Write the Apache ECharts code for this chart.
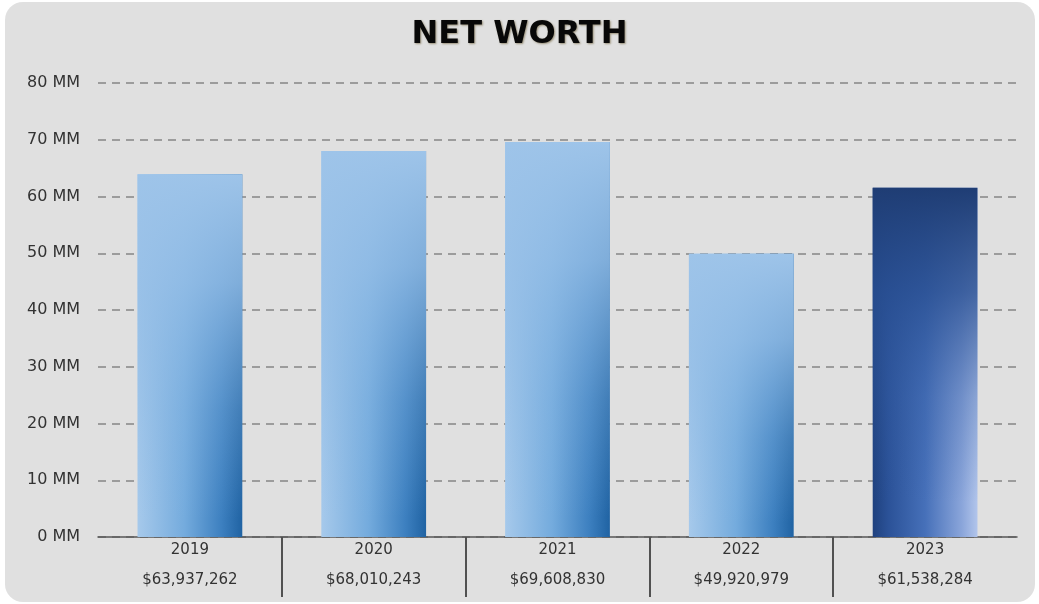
<!DOCTYPE html>
<html>
<head>
<meta charset="utf-8">
<script src="https://cdn.jsdelivr.net/npm/echarts@6/dist/echarts.min.js"></script>
<style>
  html, body { margin: 0; padding: 0; background: #ffffff; }
  #card {
    position: absolute; left: 5px; top: 2px; width: 1030px; height: 600px;
    background: #e0e0e0; border-radius: 18px;
  }
  #chart { position: absolute; left: 0; top: 0; width: 1039px; height: 604px; }
</style>
</head>
<body>
<div id="card"></div>
<div id="chart"></div>
<script>
// data
var years = ['2019', '2020', '2021', '2022', '2023'];
var netWorth = [63937262, 68010243, 69608830, 49920979, 61538284];
var yTicks = { min: 0, max: 80000000, interval: 10000000 };

var G = echarts.graphic.LinearGradient;
// base fill: left -> right
var lightBase = new G(0, 0, 1, 0, [
    { offset: 0, color: '#a6c9eb' },
    { offset: 0.45, color: '#74abdd' },
    { offset: 0.8, color: '#3d80c0' },
    { offset: 1, color: '#2063a3' }
]);
var darkBase = new G(0, 0, 1, 0, [
    { offset: 0, color: '#1f417e' },
    { offset: 0.15, color: '#2b5298' },
    { offset: 0.5, color: '#4670b9' },
    { offset: 0.85, color: '#8aa5da' },
    { offset: 1, color: '#b2c5eb' }
]);
// top wash: top -> bottom
var lightWash = new G(0, 0, 0, 1, [
    { offset: 0, color: 'rgba(158,196,233,1)' },
    { offset: 0.3, color: 'rgba(150,191,231,0.8)' },
    { offset: 0.65, color: 'rgba(140,185,228,0.3)' },
    { offset: 0.95, color: 'rgba(140,185,228,0)' }
]);
var darkWash = new G(0, 0, 0, 1, [
    { offset: 0, color: 'rgba(31,61,116,1)' },
    { offset: 0.3, color: 'rgba(40,78,145,0.8)' },
    { offset: 0.6, color: 'rgba(50,90,160,0.3)' },
    { offset: 0.9, color: 'rgba(50,90,160,0)' }
]);

function money(v) {
    return '$' + v.toString().replace(/\B(?=(\d{3})+(?!\d))/g, ',');
}

var myChart = echarts.init(document.getElementById('chart'));
var option = {
    backgroundColor: 'transparent',
    title: {
        text: 'NET WORTH',
        left: 'center',
        top: 14,
        textStyle: {
            fontFamily: 'DejaVu Sans',
            fontWeight: 'bold',
            fontSize: 32,
            color: '#080808',
            textShadowColor: 'rgba(70,50,0,0.45)',
            textShadowBlur: 2,
            textShadowOffsetX: 1,
            textShadowOffsetY: 1
        }
    },
    grid: [
        { left: 98, right: 22, top: 83, bottom: 67 },
        { left: 98, right: 22, top: 537, height: 60 }
    ],
    xAxis: [{
        type: 'category',
        gridIndex: 0,
        data: years,
        axisLine: { lineStyle: { color: '#555', width: 1.5 } },
        axisTick: { show: false },
        axisLabel: {
            margin: -2,
            lineHeight: 30,
            fontFamily: 'DejaVu Sans',
            fontSize: 15,
            color: '#333',
            formatter: function (v, i) { return v + '\n' + money(netWorth[i]); }
        }
    }, {
        type: 'category',
        gridIndex: 1,
        data: years,
        axisLine: { show: false },
        axisTick: { show: false },
        axisLabel: { show: false },
        splitLine: {
            show: true,
            showMinLine: false,
            showMaxLine: false,
            lineStyle: { color: '#222', width: 1.5 }
        }
    }],
    yAxis: [{
        type: 'value',
        gridIndex: 0,
        min: yTicks.min,
        max: yTicks.max,
        interval: yTicks.interval,
        axisLine: { show: false },
        axisTick: { show: false },
        axisLabel: {
            margin: 18,
            fontFamily: 'DejaVu Sans',
            fontSize: 16,
            color: '#333',
            formatter: function (v) { return (v / 1000000) + ' MM'; }
        },
        splitLine: {
            lineStyle: { color: '#858585', width: 1.5, type: [8, 6] }
        }
    }, {
        type: 'value',
        gridIndex: 1,
        show: false,
        splitLine: { show: false }
    }],
    series: [{
        type: 'bar',
        xAxisIndex: 0,
        yAxisIndex: 0,
        barWidth: '57%',
        data: netWorth.map(function (v, i) {
            return { value: v, itemStyle: { color: i === netWorth.length - 1 ? darkBase : lightBase } };
        }),
        itemStyle: {
            shadowColor: 'rgba(0,0,0,0.35)',
            shadowBlur: 6,
            shadowOffsetX: 2,
            shadowOffsetY: 1
        }
    }, {
        type: 'bar',
        xAxisIndex: 0,
        yAxisIndex: 0,
        barWidth: '57%',
        barGap: '-100%',
        silent: true,
        data: netWorth.map(function (v, i) {
            return { value: v, itemStyle: { color: i === netWorth.length - 1 ? darkWash : lightWash } };
        })
    }]
};
myChart.setOption(option);
</script>
</body>
</html>
